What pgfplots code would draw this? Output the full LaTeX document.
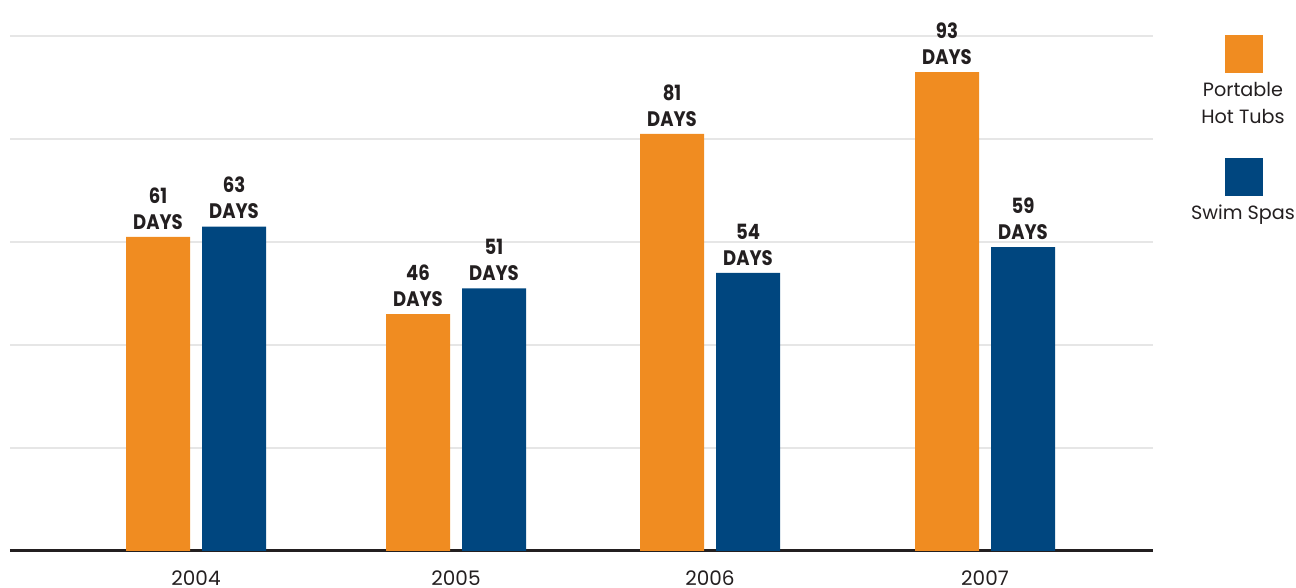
\documentclass[border=0pt]{standalone}
\usepackage{pgfplots}
\pgfplotsset{compat=1.18}
\usepackage{fontspec}
\setmainfont{Poppins}
\newfontfamily\lblfont{Poppins}[FakeStretch=0.86]

\definecolor{tubOrange}{HTML}{F08C21}
\definecolor{spaBlue}{HTML}{00467F}
\definecolor{inkGray}{HTML}{231F20}
\definecolor{gridGray}{HTML}{E6E6E6}

\begin{document}
\begin{tikzpicture}
\useasboundingbox (0,0) rectangle (648pt,294pt);
\begin{axis}[
  at={(5pt,18.5pt)}, anchor=south west,
  scale only axis, width=571.5pt, height=257.5pt,
  xmin=10, xmax=1153, ymin=0, ymax=100,
  clip=false,
  /pgf/number format/assume math mode=true,
  axis x line=bottom, axis y line=left,
  x axis line style={-, line width=1.5pt, color=inkGray},
  y axis line style={draw=none},
  ytick={20,40,60,80,100}, yticklabels={}, ytick style={draw=none},
  ymajorgrids, grid style={line width=1.1pt, color=gridGray},
  xtick={196,456,710,985}, xticklabels={2004,2005,2006,2007},
  xtick style={draw=none},
  xticklabel style={anchor=base, inner sep=0pt, yshift=-12.8pt, font=\fontsize{10}{12}\selectfont, text=inkGray},
  ybar, bar width=64, bar shift=0pt,
  nodes near coords={\pgfmathprintnumber{\pgfplotspointmeta}\\DAYS},
  every node near coord/.append style={
    align=center, anchor=south, inner sep=0pt, yshift=3.5pt,
    font=\lblfont\bfseries\fontsize{10.5}{13}\selectfont, text=inkGray},
]
% Portable hot tubs
\addplot[fill=tubOrange, draw=none] coordinates {(158,61) (418,46) (672,81) (947,93)};
% Swim spas
\addplot[fill=spaBlue, draw=none] coordinates {(234,63) (494,51) (748,54) (1023,59)};
\end{axis}
% legend
\fill[tubOrange] (612.5pt,257.5pt) rectangle (631.5pt,276.5pt);
\fill[spaBlue] (612.5pt,196pt) rectangle (631.5pt,215pt);
\begin{scope}[every node/.style={inner sep=0pt, anchor=base, text=inkGray, font=\fontsize{9.6}{12}\selectfont}]
\node at (621.5pt,245.5pt) {Portable};
\node at (621.5pt,232pt) {Hot Tubs};
\node at (621.5pt,184pt) {Swim Spas};
\end{scope}
\end{tikzpicture}
\end{document}
